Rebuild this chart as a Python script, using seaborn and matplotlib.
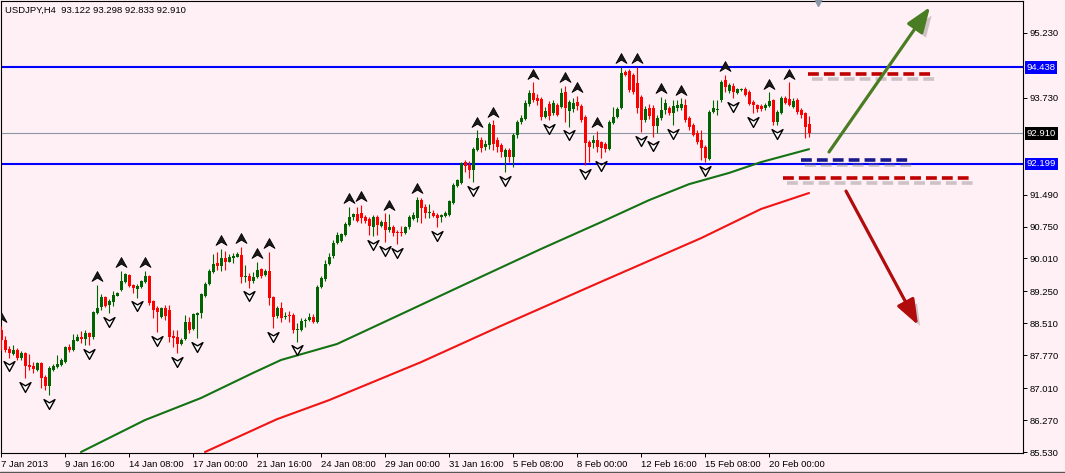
"""
USDJPY H4 candlestick chart with fractals, two moving averages,
support/resistance lines and scenario arrows (MetaTrader look).
"""
import numpy as np
import pandas as pd
import matplotlib
matplotlib.use("Agg")
import matplotlib.pyplot as plt
import matplotlib.patheffects as pe
import matplotlib.transforms as mtransforms
from matplotlib.lines import Line2D
from matplotlib.path import Path
import seaborn as sns

# Data (prices in JPY)

TITLE = "USDJPY,H4  93.122 93.298 92.833 92.910"

OPEN = [
    88.35, 88.12, 87.92, 87.80, 87.89, 87.71, 87.82, 87.54, 87.52, 87.43,
    87.59, 87.27, 87.06, 87.43, 87.50, 87.54, 87.61, 87.96, 87.89, 88.10,
    88.19, 88.15, 88.28, 88.19, 88.75, 88.89, 89.12, 88.93, 89.00, 89.14,
    89.28, 89.47, 89.63, 89.40, 89.30, 89.35, 89.47, 89.61, 89.03, 88.86,
    88.66, 88.86, 88.82, 88.22, 88.19, 88.03, 88.15, 88.54, 88.38, 88.70,
    88.75, 89.14, 89.42, 89.70, 89.90, 89.83, 90.02, 89.93, 90.02, 90.04,
    90.09, 89.58, 89.61, 89.49, 89.58, 89.77, 89.63, 89.72, 89.12, 88.68,
    88.86, 88.66, 88.70, 88.70, 88.35, 88.35, 88.56, 88.59, 88.66, 88.54,
    89.35, 89.54, 89.88, 90.07, 90.37, 90.42, 90.55, 90.78, 90.97, 91.04,
    91.06, 90.97, 90.92, 90.74, 90.97, 90.76, 90.85, 90.67, 90.74, 90.62,
    90.62, 90.60, 90.74, 90.92, 90.95, 91.36, 91.20, 91.06, 91.06, 91.02,
    90.97, 91.00, 91.02, 91.29, 91.69, 91.76, 92.24, 92.17, 92.06, 92.52,
    92.75, 92.59, 92.64, 93.10, 92.75, 92.64, 92.36, 92.52, 92.36, 92.87,
    93.17, 93.24, 93.59, 93.84, 93.72, 93.70, 93.28, 93.59, 93.38, 93.56,
    93.52, 93.86, 93.42, 93.47, 93.63, 93.54, 93.28, 92.70, 92.68, 92.75,
    92.70, 92.66, 92.55, 93.15, 93.28, 93.49, 94.33, 94.35, 94.26, 94.07,
    93.75, 93.21, 93.49, 93.49, 93.08, 93.26, 93.45, 93.49, 93.38, 93.49,
    93.49, 93.56, 93.26, 93.10, 92.91, 92.75, 92.59, 92.31, 93.40, 93.45,
    93.68, 94.14, 93.89, 94.00, 93.84, 93.91, 93.93, 93.86, 93.63, 93.56,
    93.54, 93.49, 93.54, 93.68, 93.17, 93.38, 93.72, 93.70, 93.52, 93.68,
    93.45, 93.38, 93.122,
]
CLOSE = [
    88.12, 87.89, 87.82, 87.89, 87.71, 87.82, 87.52, 87.50, 87.45, 87.59,
    87.24, 87.06, 87.48, 87.52, 87.57, 87.66, 87.96, 87.89, 88.12, 88.19,
    88.15, 88.28, 88.19, 88.77, 88.86, 89.12, 88.91, 89.03, 89.16, 89.21,
    89.49, 89.65, 89.37, 89.33, 89.37, 89.49, 89.61, 88.98, 88.82, 88.77,
    88.86, 88.68, 88.19, 88.17, 88.03, 88.12, 88.54, 88.35, 88.72, 88.75,
    89.19, 89.42, 89.72, 89.88, 89.83, 90.02, 89.93, 90.04, 90.07, 90.11,
    89.58, 89.61, 89.49, 89.58, 89.74, 89.61, 89.72, 89.10, 88.66, 88.86,
    88.63, 88.68, 88.68, 88.35, 88.38, 88.56, 88.59, 88.66, 88.54, 89.35,
    89.56, 89.88, 90.04, 90.37, 90.55, 90.58, 90.81, 90.97, 91.04, 90.88,
    90.95, 90.88, 90.76, 90.97, 90.78, 90.85, 90.67, 90.74, 90.60, 90.60,
    90.60, 90.74, 90.97, 91.02, 91.36, 91.18, 91.06, 91.09, 91.00, 90.95,
    91.02, 91.06, 91.34, 91.71, 91.82, 92.22, 92.15, 92.06, 92.55, 92.80,
    92.57, 92.66, 93.12, 92.66, 92.59, 92.47, 92.52, 92.36, 92.87, 93.17,
    93.26, 93.61, 93.84, 93.68, 93.66, 93.28, 93.42, 93.31, 93.61, 93.33,
    93.84, 93.49, 93.63, 93.61, 93.54, 93.21, 92.68, 92.59, 92.75, 92.59,
    92.57, 92.55, 93.17, 93.28, 93.47, 94.30, 94.26, 93.91, 93.86, 93.49,
    93.21, 93.47, 93.31, 93.08, 93.26, 93.45, 93.61, 93.38, 93.54, 93.56,
    93.59, 93.21, 93.06, 92.87, 92.70, 92.57, 92.34, 93.40, 93.49, 93.47,
    94.09, 93.98, 94.03, 93.86, 93.93, 93.93, 93.80, 93.59, 93.56, 93.47,
    93.47, 93.56, 93.66, 93.17, 93.40, 93.72, 93.61, 93.56, 93.66, 93.40,
    93.33, 93.06, 92.910,
]
HIGH = [
    88.45, 88.22, 87.98, 88.01, 87.94, 87.87, 87.85, 87.80, 87.61, 87.61,
    87.61, 87.31, 87.52, 87.57, 87.78, 87.71, 87.98, 88.03, 88.26, 88.26,
    88.33, 88.35, 88.31, 88.79, 89.40, 89.19, 89.14, 89.07, 89.26, 89.23,
    89.72, 89.67, 89.65, 89.42, 89.42, 89.51, 89.72, 89.63, 89.05, 88.91,
    88.89, 88.93, 88.93, 88.35, 88.35, 88.17, 88.70, 88.66, 88.75, 88.77,
    89.21, 89.47, 89.77, 90.11, 90.16, 90.23, 90.18, 90.11, 90.14, 90.16,
    90.28, 89.86, 89.67, 89.70, 89.93, 89.79, 89.77, 90.16, 89.14, 88.91,
    89.00, 88.77, 88.79, 88.75, 88.52, 88.63, 88.63, 88.75, 88.72, 89.40,
    89.61, 89.98, 90.14, 90.44, 90.62, 90.60, 90.85, 91.20, 91.06, 91.20,
    91.25, 91.02, 90.97, 91.02, 91.02, 90.90, 91.06, 91.04, 90.78, 90.67,
    90.76, 90.76, 91.02, 91.09, 91.43, 91.41, 91.27, 91.27, 91.13, 91.06,
    91.04, 91.11, 91.36, 91.76, 91.84, 92.24, 92.29, 92.27, 92.59, 92.98,
    92.82, 92.75, 93.17, 93.21, 92.82, 92.68, 92.57, 92.57, 92.91, 93.21,
    93.33, 93.68, 93.91, 94.09, 93.82, 93.75, 93.52, 93.66, 93.68, 93.61,
    93.96, 94.00, 93.68, 93.72, 93.77, 93.59, 93.33, 92.75, 92.87, 92.96,
    92.73, 92.70, 93.21, 93.52, 93.52, 94.44, 94.37, 94.40, 94.30, 94.44,
    93.79, 93.54, 93.59, 93.56, 93.33, 93.75, 93.70, 93.54, 93.68, 93.68,
    93.72, 93.70, 93.31, 93.15, 92.98, 92.98, 92.64, 93.45, 93.68, 93.68,
    94.14, 94.26, 94.07, 94.07, 93.96, 93.96, 93.98, 93.91, 93.68, 93.59,
    93.59, 93.61, 93.86, 93.70, 93.45, 93.77, 93.77, 94.09, 93.72, 93.72,
    93.49, 93.40, 93.298,
]
LOW = [
    87.89, 87.85, 87.71, 87.78, 87.66, 87.66, 87.24, 87.43, 87.36, 87.40,
    87.01, 86.97, 86.85, 87.40, 87.48, 87.52, 87.59, 87.85, 87.87, 88.10,
    88.05, 88.01, 88.01, 88.15, 88.72, 88.82, 88.89, 88.75, 88.91, 89.14,
    89.26, 89.44, 89.35, 89.21, 89.10, 89.33, 89.44, 88.93, 88.63, 88.31,
    88.63, 88.59, 88.08, 87.96, 87.82, 88.01, 88.12, 88.28, 88.35, 88.17,
    88.63, 89.12, 89.40, 89.67, 89.74, 89.72, 89.74, 89.93, 89.90, 90.04,
    89.44, 89.47, 89.33, 89.44, 89.56, 89.56, 89.61, 88.93, 88.40, 88.63,
    88.54, 88.61, 88.54, 88.28, 88.08, 88.33, 88.42, 88.56, 88.52, 88.52,
    89.32, 89.49, 89.86, 90.02, 90.34, 90.39, 90.53, 90.76, 90.90, 90.85,
    90.83, 90.83, 90.55, 90.53, 90.55, 90.74, 90.39, 90.62, 90.53, 90.34,
    90.53, 90.58, 90.69, 90.90, 90.85, 90.83, 90.95, 90.95, 90.97, 90.74,
    90.85, 90.97, 91.00, 91.27, 91.66, 91.73, 92.01, 91.87, 91.78, 92.50,
    92.47, 92.52, 92.55, 92.52, 92.47, 92.36, 92.01, 92.24, 92.13, 92.80,
    93.12, 93.21, 93.54, 93.63, 93.56, 93.21, 93.26, 93.21, 93.33, 93.31,
    93.49, 93.17, 93.06, 93.40, 93.45, 93.17, 92.17, 92.24, 92.57, 92.47,
    92.34, 92.47, 92.52, 93.12, 93.26, 93.47, 94.23, 93.86, 93.82, 93.38,
    92.94, 93.17, 93.24, 92.82, 92.91, 93.21, 93.35, 93.33, 93.10, 93.42,
    93.45, 93.17, 92.98, 92.85, 92.66, 92.29, 92.24, 92.29, 93.38, 93.33,
    93.63, 93.86, 93.84, 93.72, 93.82, 93.89, 93.77, 93.56, 93.38, 93.40,
    93.42, 93.45, 93.52, 93.10, 93.10, 93.35, 93.59, 93.54, 93.49, 93.35,
    93.26, 92.80, 92.833,
]

# Bill Williams fractals (bar numbers)
FRACTAL_UP = [0, 24, 30, 36, 55, 60, 64, 67, 87, 90, 97, 104, 119, 123, 133,
              141, 144, 149, 155, 159, 165, 170, 181, 192, 197]
FRACTAL_DOWN = [2, 6, 12, 22, 27, 34, 39, 44, 49, 62, 68, 74, 93, 96, 99, 109,
                118, 126, 137, 142, 146, 150, 160, 163, 168, 176, 183, 188, 194]

# moving averages, read at a few bars
GREEN_MA_BAR = [20, 36, 50, 63, 70, 84, 100, 115, 135, 150, 162, 172, 182, 190, 202]
GREEN_MA = [85.53, 86.27, 86.78, 87.36, 87.66, 88.03, 88.72, 89.37, 90.23, 90.85,
            91.36, 91.73, 91.99, 92.24, 92.54]
RED_MA_BAR = [51, 69, 82, 105, 125, 150, 175, 190, 202]
RED_MA = [85.53, 86.29, 86.73, 87.61, 88.45, 89.47, 90.48, 91.155, 91.525]

RESISTANCE = 94.438
SUPPORT = 92.199
LAST_PRICE = 92.910

PRICE_TICKS = [95.230, 93.730, 91.490, 90.750, 90.010, 89.250, 88.510,
               87.770, 87.010, 86.270, 85.530]
DATE_LABELS = ["7 Jan 2013", "9 Jan 16:00", "14 Jan 08:00", "17 Jan 00:00",
               "21 Jan 16:00", "24 Jan 08:00", "29 Jan 00:00", "31 Jan 16:00",
               "5 Feb 08:00", "8 Feb 00:00", "12 Feb 16:00", "15 Feb 08:00",
               "20 Feb 00:00"]
BARS_PER_LABEL = 16

# scenario drawings (bar, price)
TARGET_UP_LEVEL = 94.28
TARGET_UP_BARS = [201.75, 233.0]
PIVOT_LEVEL = 92.29
PIVOT_BARS = [200.0, 227.0]
STOP_LEVEL = 91.87
STOP_BARS = [195.5, 242.25]
BULL_ARROW = [(207.0, 92.475), (232.25, 95.83)]
BEAR_ARROW = [(211.25, 91.57), (229.25, 88.47)]

# Style
BG = "#fff0f5"
BULL = "#006400"
BEAR = "#ff0000"

sns.set_theme(style="white")
plt.rcParams["font.family"] = ["Liberation Sans", "DejaVu Sans"]

df = pd.DataFrame({"open": OPEN, "high": HIGH, "low": LOW, "close": CLOSE})
df["bar"] = np.arange(len(df))
is_bull = df["close"] >= df["open"]
colors = np.where(is_bull, BULL, BEAR)

fig = plt.figure(figsize=(10.65, 4.73), dpi=100, facecolor=BG)
ax = fig.add_axes([1 / 1065, 20 / 473, 1022 / 1065, 452 / 473])
ax.set_facecolor(BG)

# candles
ax.vlines(df["bar"], df["low"], df["high"], colors=colors, linewidth=0.8, zorder=3)
body = (df["close"] - df["open"]).abs().clip(lower=0.02)
ax.bar(df["bar"], body, bottom=df[["open", "close"]].min(axis=1),
       width=0.75, color=colors, linewidth=0, zorder=3)

# moving averages
sns.lineplot(x=GREEN_MA_BAR, y=GREEN_MA, color="#137213", linewidth=1.5, ax=ax, zorder=2)
sns.lineplot(x=RED_MA_BAR, y=RED_MA, color="#f01414", linewidth=1.5, ax=ax, zorder=2)

# horizontal levels
ax.axhline(RESISTANCE, color="#0000ff", linewidth=1.5, zorder=1)
ax.axhline(SUPPORT, color="#0000ff", linewidth=1.5, zorder=1)
ax.axhline(LAST_PRICE, color="#8c96a5", linewidth=0.8, zorder=1)

# fractal arrows
up_marker = Path([(0, 0.9), (1, -0.9), (0, -0.3), (-1, -0.9), (0, 0.9)],
                 [Path.MOVETO, Path.LINETO, Path.LINETO, Path.LINETO, Path.CLOSEPOLY])
down_marker = Path([(0, -0.9), (1, 0.9), (0, 0.3), (-1, 0.9), (0, -0.9)],
                   [Path.MOVETO, Path.LINETO, Path.LINETO, Path.LINETO, Path.CLOSEPOLY])
sns.scatterplot(x=FRACTAL_UP, y=df["high"].iloc[FRACTAL_UP].to_numpy() + 0.2,
                marker=up_marker, s=62, color="#1a1a1a", edgecolor="black",
                linewidth=0.6, ax=ax, zorder=4)
sns.scatterplot(x=FRACTAL_DOWN, y=df["low"].iloc[FRACTAL_DOWN].to_numpy() - 0.2,
                marker=down_marker, s=62, color="white", edgecolor="black",
                linewidth=1.0, ax=ax, zorder=4)

# scenario dashes + arrows, with a soft drop shadow
shadow = [pe.SimpleLineShadow(offset=(3, -3.5), shadow_color="#707070", alpha=0.35),
          pe.Normal()]
for bars, level, col in [(TARGET_UP_BARS, TARGET_UP_LEVEL, "#c00000"),
                         (PIVOT_BARS, PIVOT_LEVEL, "#1a1a8c"),
                         (STOP_BARS, STOP_LEVEL, "#c00000")]:
    ax.plot(bars, [level, level], color=col, linewidth=2.6, dashes=(3.0, 1.4),
            solid_capstyle="butt", dash_capstyle="butt", path_effects=shadow, zorder=5)

for (start, tip), col in [(BULL_ARROW, "#4a7c24"), (BEAR_ARROW, "#b00c0c")]:
    ann = ax.annotate("", xy=tip, xytext=start, zorder=5,
                      arrowprops=dict(arrowstyle="-|>,head_length=0.85,head_width=0.32",
                                      mutation_scale=18, linewidth=2.3, color=col,
                                      shrinkA=0, shrinkB=0))
    ann.arrow_patch.set_path_effects(
        [pe.SimplePatchShadow(offset=(3, -3.5), shadow_rgbFace="#707070", alpha=0.35),
         pe.Normal()])

# axes limits and ticks
ax.set_xlim(0, 255.5)
ax.set_ylim(85.507, 95.970)
ax.yaxis.tick_right()
ax.set_yticks(PRICE_TICKS)
ax.set_yticklabels([f"{p:.3f}" for p in PRICE_TICKS])
ax.set_xticks(np.arange(len(DATE_LABELS)) * BARS_PER_LABEL)
ax.set_xticklabels(DATE_LABELS, ha="left")
shift = mtransforms.ScaledTranslation(1 / 72, 0, fig.dpi_scale_trans)
for lab in ax.get_xticklabels():
    lab.set_transform(lab.get_transform() + shift)
ax.tick_params(axis="both", direction="out", length=3, width=0.7, color="black",
               labelsize=6.8, labelcolor="black")
ax.tick_params(axis="y", pad=1.5, right=True, left=False)
ax.tick_params(axis="x", pad=2, bottom=True)
ax.set_xlabel("")
ax.set_ylabel("")
for sp in ax.spines.values():
    sp.set_visible(True)
    sp.set_color("black")
    sp.set_linewidth(0.8)

# price tags on the right scale
tag = mtransforms.blended_transform_factory(ax.transAxes, ax.transData)
for price, fc in [(RESISTANCE, "#0000ff"), (LAST_PRICE, "black"), (SUPPORT, "#0000ff")]:
    ax.text(1.0035, price, f"{price:.3f}", transform=tag, color="white",
            fontsize=6.8, ha="left", va="center", clip_on=False,
            bbox=dict(boxstyle="square,pad=0.2", fc=fc, ec="none"))

# chart shift marker and header
ax.plot([204.2], [1.0], marker="v", markersize=7, color="#8a96a6",
        transform=mtransforms.blended_transform_factory(ax.transData, ax.transAxes),
        clip_on=False, zorder=6)
fig.text(5 / 1065, 1 - 10 / 473, TITLE, fontsize=6.8, va="center", ha="left",
         color="black")
fig.add_artist(Line2D([0, 1], [1.5 / 473, 1.5 / 473], color="#555555", linewidth=1))

fig.savefig("out.png", dpi=100, facecolor=BG)
